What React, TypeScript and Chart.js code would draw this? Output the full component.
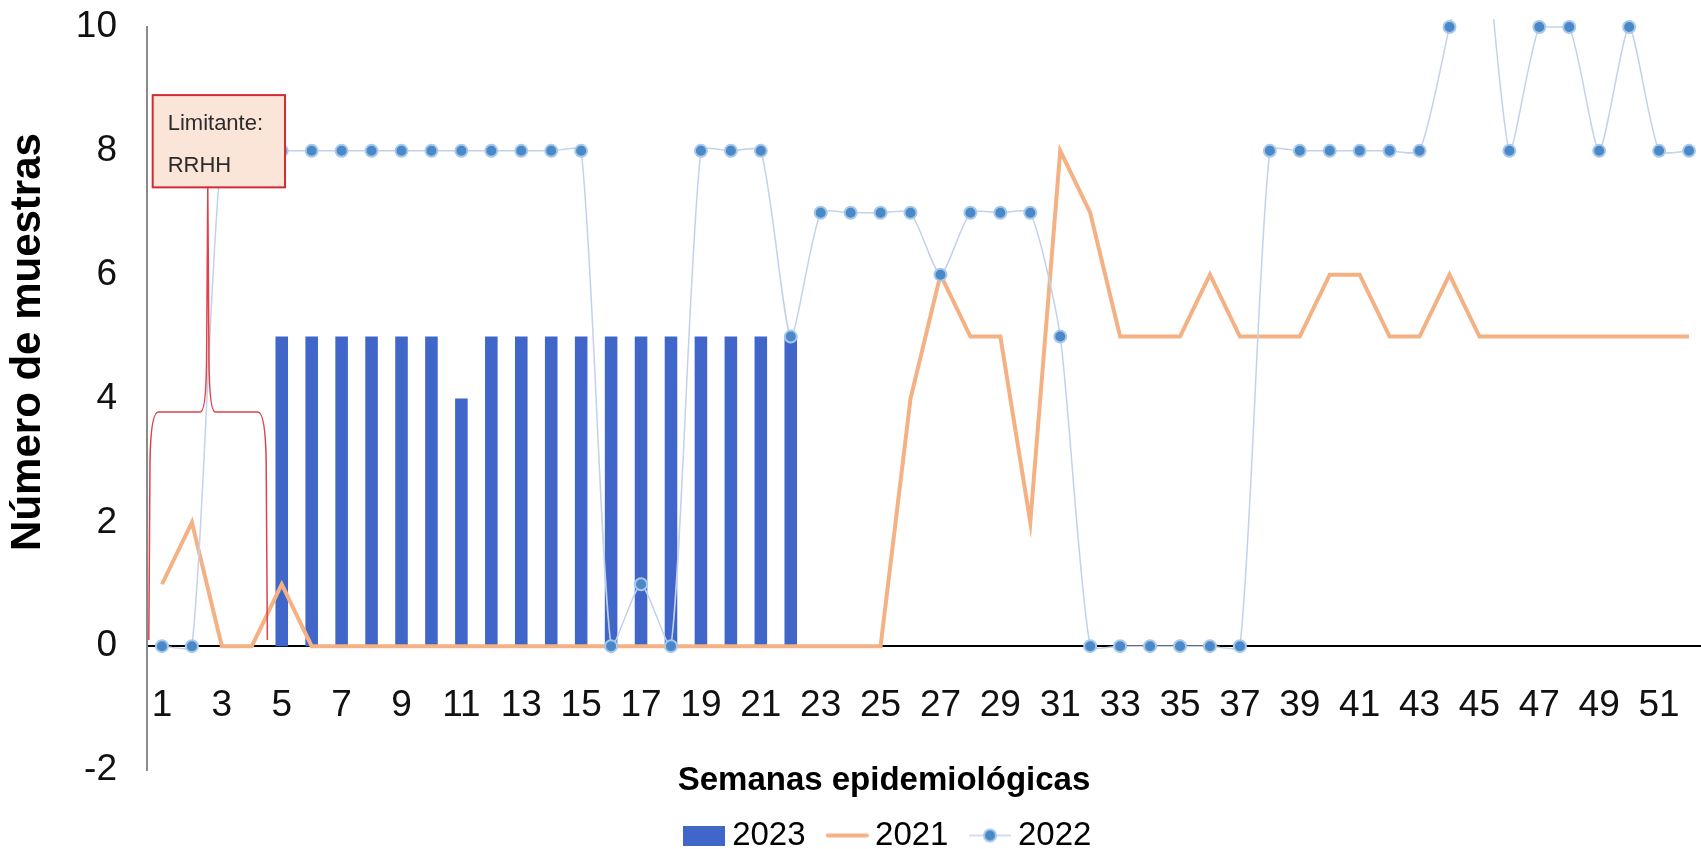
import React, { useEffect, useRef } from 'react';
import { Chart, registerables } from 'chart.js';

Chart.register(...registerables);

// ---------- data ----------
const weeks = [
  '1', '2', '3', '4', '5', '6', '7', '8', '9', '10',
  '11', '12', '13', '14', '15', '16', '17', '18', '19', '20',
  '21', '22', '23', '24', '25', '26', '27', '28', '29', '30',
  '31', '32', '33', '34', '35', '36', '37', '38', '39', '40',
  '41', '42', '43', '44', '45', '46', '47', '48', '49', '50',
  '51', '52',
];

const values2023 = [
  null, null, null, null, 5, 5, 5, 5, 5, 5,
  4, 5, 5, 5, 5, 5, 5, 5, 5, 5,
  5, 5, null, null, null, null, null, null, null, null,
  null, null, null, null, null, null, null, null, null, null,
  null, null, null, null, null, null, null, null, null, null,
  null, null,
];

const values2021 = [
  1, 2, 0, 0, 1, 0, 0, 0, 0, 0,
  0, 0, 0, 0, 0, 0, 0, 0, 0, 0,
  0, 0, 0, 0, 0, 4, 6, 5, 5, 2,
  8, 7, 5, 5, 5, 6, 5, 5, 5, 6,
  6, 5, 5, 6, 5, 5, 5, 5, 5, 5,
  5, 5,
];

const values2022 = [
  0, 0, 8, 8, 8, 8, 8, 8, 8, 8,
  8, 8, 8, 8, 8, 0, 1, 0, 8, 8,
  8, 5, 7, 7, 7, 7, 6, 7, 7, 7,
  5, 0, 0, 0, 0, 0, 0, 8, 8, 8,
  8, 8, 8, 10, 12, 8, 10, 10, 8, 10,
  8, 8,
];

const yTicks = [-2, 0, 2, 4, 6, 8, 10];
const seriesNames = ['2023', '2021', '2022'];
const xTitle = 'Semanas epidemiológicas';
const yTitle = 'Número de muestras';
const calloutLines = ['Limitante:', 'RRHH'];

// callout annotation geometry (in week / value units)
const calloutBox = { w0: 0.69, w1: 5.11, v0: 8.9, v1: 7.41 };

// ---------- styles ----------
const SANS = '"Liberation Sans", Arial, sans-serif';
const C2023 = '#3F66C8';
const C2021 = '#F4B183';
const C2022_LINE = '#C3D2EA';
const C2022_PT = '#4A88C8';
const C2022_PT_BORDER = '#A6C8EA';

function makeIcon(kind: string): HTMLCanvasElement {
  const c = document.createElement('canvas');
  if (kind === 'bar') {
    c.width = 42; c.height = 20;
    const g = c.getContext('2d')!;
    g.fillStyle = C2023;
    g.fillRect(0, 0, 42, 20);
  } else if (kind === 'line') {
    c.width = 43; c.height = 8;
    const g = c.getContext('2d')!;
    g.strokeStyle = C2021; g.lineWidth = 4; g.lineCap = 'round';
    g.beginPath(); g.moveTo(2, 4); g.lineTo(41, 4); g.stroke();
  } else {
    c.width = 42; c.height = 16;
    const g = c.getContext('2d')!;
    g.strokeStyle = C2022_LINE; g.lineWidth = 1.5;
    g.beginPath(); g.moveTo(0, 8); g.lineTo(42, 8); g.stroke();
    g.fillStyle = C2022_PT; g.strokeStyle = C2022_PT_BORDER; g.lineWidth = 2;
    g.beginPath(); g.arc(21, 8, 6, 0, Math.PI * 2); g.fill(); g.stroke();
  }
  return c;
}

const overlayPlugin = {
  id: 'overlay',
  afterDatasetsDraw(chart: any) {
    const { ctx } = chart;
    const xs = chart.scales.x;
    const ys = chart.scales.y;
    const px = (w: number) => xs.getPixelForValue(w - 1);
    const py = (v: number) => ys.getPixelForValue(v);
    ctx.save();
    // brace
    ctx.strokeStyle = '#E0424B';
    ctx.lineWidth = 1.5;
    ctx.beginPath();
    ctx.moveTo(px(0.56), py(0.1));
    ctx.lineTo(px(0.6), py(3.0));
    ctx.quadraticCurveTo(px(0.63), py(3.78), px(0.88), py(3.78));
    ctx.lineTo(px(2.28), py(3.78));
    ctx.quadraticCurveTo(px(2.47), py(3.78), px(2.49), py(4.6));
    ctx.lineTo(px(2.53), py(7.41));
    ctx.lineTo(px(2.57), py(4.6));
    ctx.quadraticCurveTo(px(2.59), py(3.78), px(2.78), py(3.78));
    ctx.lineTo(px(4.2), py(3.78));
    ctx.quadraticCurveTo(px(4.45), py(3.78), px(4.48), py(3.0));
    ctx.lineTo(px(4.52), py(0.1));
    ctx.stroke();
    // callout box
    const bx = px(calloutBox.w0), bx2 = px(calloutBox.w1);
    const by = py(calloutBox.v0), by2 = py(calloutBox.v1);
    ctx.fillStyle = '#FBE4D8';
    ctx.fillRect(bx, by, bx2 - bx, by2 - by);
    ctx.strokeStyle = '#D22B33';
    ctx.lineWidth = 2;
    ctx.strokeRect(bx, by, bx2 - bx, by2 - by);
    ctx.fillStyle = '#2b2b2b';
    ctx.font = '22px ' + SANS;
    ctx.textAlign = 'left';
    ctx.textBaseline = 'alphabetic';
    ctx.fillText(calloutLines[0], bx + 15, by + 35);
    ctx.fillText(calloutLines[1], bx + 15, by + 77);
    ctx.restore();
  },
  afterDraw(chart: any) {
    const { ctx } = chart;
    ctx.save();
    ctx.fillStyle = '#000';
    ctx.font = 'bold 42px ' + SANS;
    ctx.textAlign = 'center';
    ctx.textBaseline = 'middle';
    ctx.translate(28, 342);
    ctx.rotate(-Math.PI / 2);
    ctx.fillText(yTitle, 0, 0);
    ctx.restore();
    ctx.save();
    ctx.fillStyle = '#000';
    ctx.font = 'bold 33px ' + SANS;
    ctx.textAlign = 'center';
    ctx.textBaseline = 'alphabetic';
    ctx.fillText(xTitle, 884, 790);
    ctx.restore();
  },
};

export default function App() {
  const ref = useRef<HTMLCanvasElement | null>(null);
  useEffect(() => {
    if (!ref.current) return;
    const icons = [makeIcon('bar'), makeIcon('line'), makeIcon('point')];
    const chart = new Chart(ref.current, {
      type: 'bar',
      data: {
        labels: weeks,
        datasets: [
          {
            type: 'bar',
            label: seriesNames[0],
            data: values2023,
            backgroundColor: C2023,
            barPercentage: 0.42,
            categoryPercentage: 1,
            order: 3,
          } as any,
          {
            type: 'line',
            label: seriesNames[1],
            data: values2021,
            borderColor: C2021,
            borderWidth: 4,
            pointRadius: 0,
            tension: 0,
            order: 2,
          } as any,
          {
            type: 'line',
            label: seriesNames[2],
            data: values2022,
            borderColor: C2022_LINE,
            borderWidth: 1.5,
            pointRadius: 6,
            pointBackgroundColor: C2022_PT,
            pointBorderColor: C2022_PT_BORDER,
            pointBorderWidth: 2,
            tension: 0.2,
            order: 1,
            clip: { left: 10, top: 8, right: 10, bottom: 10 },
          } as any,
        ],
      },
      options: {
        responsive: false,
        animation: false,
        layout: { padding: { left: 72, top: 27, right: 0, bottom: 0 } },
        scales: {
          x: {
            type: 'category',
            position: { y: 0 } as any,
            offset: true,
            grid: { display: false },
            border: { display: true, color: '#000', width: 2 },
            ticks: {
              autoSkip: false,
              maxRotation: 0,
              padding: 29,
              color: '#111',
              font: { family: SANS, size: 37, lineHeight: 1.2 },
              callback: (_v: any, i: number) => (i % 2 === 0 ? weeks[i] : ''),
            },
            afterFit: (s: any) => { s.paddingLeft = 0; s.paddingRight = 0; s.paddingTop = 0; s.paddingBottom = 0; },
          },
          y: {
            min: yTicks[0],
            max: yTicks[yTicks.length - 1],
            grid: { display: false, drawTicks: false },
            border: { display: true, color: '#8a8a8a', width: 2 },
            ticks: {
              stepSize: 2,
              padding: 30,
              color: '#111',
              font: { family: SANS, size: 37, lineHeight: 1.2 },
            },
            afterFit: (s: any) => { s.width = 75; s.paddingTop = 0; s.paddingBottom = 0; },
          },
        },
        plugins: {
          tooltip: { enabled: false },
          legend: {
            position: 'bottom',
            align: 'center',
            title: { display: true, text: '', padding: { top: 19, bottom: 0 }, font: { size: 1, lineHeight: 0 } },
            labels: {
              usePointStyle: true,
              pointStyleWidth: 23,
              padding: 30,
              color: '#000',
              font: { family: SANS, size: 33 },
              generateLabels: () => seriesNames.map((t, i) => ({
                text: t,
                pointStyle: icons[i],
                fillStyle: 'transparent',
                strokeStyle: 'transparent',
                fontColor: '#000',
                lineWidth: 0,
                hidden: false,
                datasetIndex: i,
              })) as any,
            },
          },
        },
      },
      plugins: [overlayPlugin],
    });
    return () => chart.destroy();
  }, []);
  return (
    <div style={{ position: 'fixed', left: 0, top: 0, width: 1701, height: 849, overflow: 'hidden', background: '#fff' }}>
      <canvas ref={ref} width={1712} height={862} style={{ display: 'block' }} />
    </div>
  );
}
